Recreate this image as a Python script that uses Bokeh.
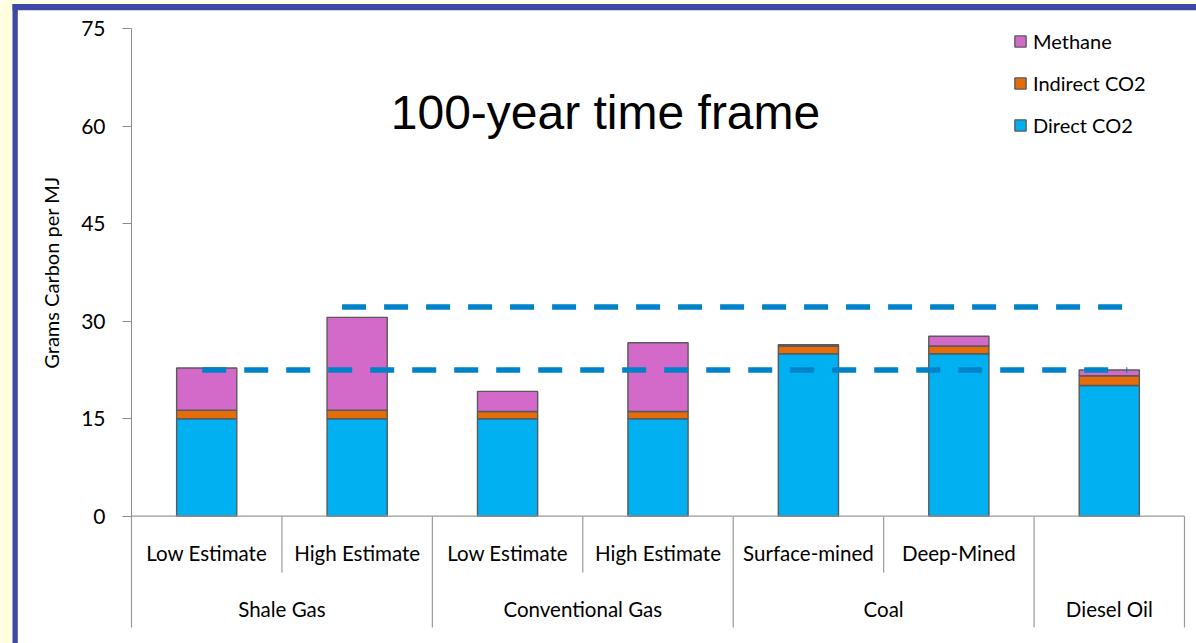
import numpy as np
from bokeh.plotting import figure
from bokeh.models import (ColumnDataSource, FixedTicker, Range1d, BoxAnnotation,
                          Label, Legend, LegendItem, LinearAxis)
from bokeh.core.properties import value
from bokeh.embed import file_html
from bokeh.resources import INLINE

# ---- data -------------------------------------------------------------
subcategories = ["Low Estimate", "High Estimate", "Low Estimate", "High Estimate",
                 "Surface-mined", "Deep-Mined", ""]
groups = ["Shale Gas", "Conventional Gas", "Coal", "Diesel Oil"]
group_sizes = [2, 2, 2, 1]

direct_co2 = [15.0, 15.0, 15.0, 15.0, 25.0, 25.0, 20.1]
indirect_co2 = [1.3, 1.3, 1.1, 1.1, 1.2, 1.2, 1.5]
methane = [6.5, 14.3, 3.1, 10.6, 0.2, 1.5, 0.9]

series_keys = ["direct", "indirect", "methane"]
series_names = ["Direct CO2", "Indirect CO2", "Methane"]
series_colors = ["#00B0F0", "#E46C0A", "#D36AC9"]

ref_levels = [22.5, 32.2]
ref_start = [0.47, 1.40]
ref_end = [6.62, 6.62]

y_ticks = [0, 15, 30, 45, 60, 75]
y_max = 75

# ---- geometry ---------------------------------------------------------
W, H = 1196, 643
AXIS_X = 131          # canvas column of the y axis
PX_X = 1053 / 7       # pixels per category
Y_ZERO = 515.7        # canvas row of value 0
PX_Y = 6.499          # pixels per gram

def xdata(col):
    return (col - AXIS_X) / PX_X

def ydata(row):
    return (Y_ZERO - row) / PX_Y

n = len(subcategories)
xs = np.arange(n) + 0.5

source = ColumnDataSource(dict(x=xs, direct=direct_co2, indirect=indirect_co2,
                               methane=methane))

# the plot frame spans the whole canvas; the axis sits at x = 0 inside it
p = figure(width=W, height=H, title=None,
           x_range=Range1d(xdata(0), xdata(W)),
           y_range=Range1d(ydata(H), ydata(0)),
           output_backend="svg", toolbar_location=None,
           x_axis_location=None, y_axis_location=None,
           min_border_left=0, min_border_right=0,
           min_border_top=0, min_border_bottom=0,
           outline_line_color=None, background_fill_color="white",
           border_fill_color="white")
p.grid.visible = False

# slide frame: pale strip and blue rule along the left and top edges
def frame_box(left, right, top, bottom, color):
    p.add_layout(BoxAnnotation(left=left, right=right, top=top, bottom=bottom,
                               left_units="canvas", right_units="canvas",
                               top_units="canvas", bottom_units="canvas",
                               fill_color=color, fill_alpha=1, line_color=None,
                               level="underlay"))

frame_box(0, 12, 0, H, "#FFFFE0")
frame_box(0, W, 0, 3.5, "#FFFFE0")
frame_box(12, 17.3, 3.5, H, "#3F48A6")
frame_box(12, W, 3.5, 9.8, "#3F48A6")

# y axis
yaxis = LinearAxis(bounds=(0, y_max), ticker=FixedTicker(ticks=y_ticks),
                   fixed_location=0)
yaxis.axis_line_color = "#8C8C8C"
yaxis.major_tick_line_color = "#8C8C8C"
yaxis.major_tick_out = 9
yaxis.major_tick_in = 0
yaxis.minor_tick_line_color = None
yaxis.major_label_text_font = "Lato"
yaxis.major_label_text_font_size = "21px"
yaxis.major_label_text_color = "#000000"
yaxis.major_label_standoff = 17
p.add_layout(yaxis, "left")

p.text(x=[xdata(50)], y=[(0 + y_max) / 2], text=["Grams Carbon per MJ"],
       angle=np.pi / 2, text_font=value("Lato"), text_font_size="20px",
       text_color="#000000", text_align="center", text_baseline="middle")

# stacked bars
renderers = p.vbar_stack(series_keys, x="x", width=0.4, source=source,
                         fill_color=series_colors, line_color="#5A5A5A",
                         line_width=1.4)

# reference levels
p.segment(x0=ref_start, y0=ref_levels, x1=ref_end, y1=ref_levels,
          line_color="#0082C8", line_width=5.5, line_dash="24 18")

# category axis: base line, separators and two rows of labels
SEP_COLOR = "#9A9A9A"
sub_bottom = ydata(572)
grp_bottom = ydata(627)
p.segment(x0=[0], y0=[0], x1=[n], y1=[0], line_color=SEP_COLOR, line_width=1.2)

bounds = np.concatenate([[0], np.cumsum(group_sizes)])
sub_seps = [i for i in range(1, n) if i not in bounds]
p.segment(x0=bounds, y0=[0] * len(bounds), x1=bounds, y1=[grp_bottom] * len(bounds),
          line_color=SEP_COLOR, line_width=1.2)
p.segment(x0=sub_seps, y0=[0] * len(sub_seps), x1=sub_seps,
          y1=[sub_bottom] * len(sub_seps), line_color=SEP_COLOR, line_width=1.2)

p.text(x=xs, y=[ydata(552)] * n, text=subcategories,
       text_font=value("Lato"), text_font_size="20.5px", text_color="#000000",
       text_align="center", text_baseline="middle")
group_centers = (bounds[:-1] + bounds[1:]) / 2
p.text(x=group_centers, y=[ydata(608)] * len(groups), text=groups,
       text_font=value("Lato"), text_font_size="20.5px", text_color="#000000",
       text_align="center", text_baseline="middle")

# title inside the plot
p.add_layout(Label(x=xdata(605), y=ydata(112), text="100-year time frame",
                   text_font="Liberation Sans", text_font_size="48px",
                   text_color="#000000", text_align="center",
                   text_baseline="middle"))

# legend, top series first
items = [LegendItem(label=name, renderers=[r])
         for name, r in reversed(list(zip(series_names, renderers)))]
legend = Legend(items=items, location=(1013, 506), orientation="vertical",
                label_text_font="Lato", label_text_font_size="20px",
                label_text_color="#000000", glyph_width=14, glyph_height=14,
                label_height=22, label_standoff=6, spacing=18, padding=0,
                margin=0, border_line_color=None, background_fill_alpha=0)
p.add_layout(legend, "center")

open("out.html", "w").write(file_html(p, INLINE))
